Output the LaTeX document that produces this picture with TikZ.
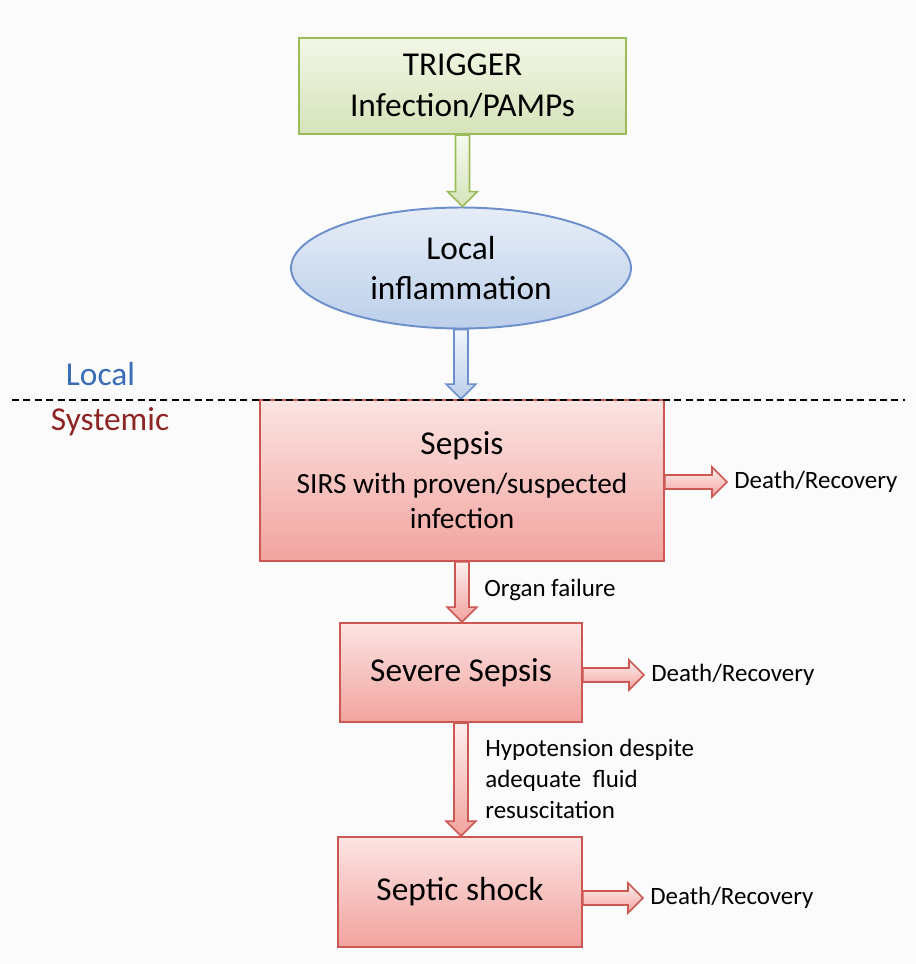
\documentclass[tikz,border=0pt]{standalone}
\usepackage{fontspec}
\setmainfont{Carlito}
\usetikzlibrary{calc,shapes.geometric}
\definecolor{bgpaper}{RGB}{251,251,251}
\definecolor{leafline}{HTML}{9BBB59}
\definecolor{leaftop}{HTML}{F2F7E6}
\definecolor{leafbot}{HTML}{D5E3BA}
\definecolor{skyline}{HTML}{6D8FCB}
\definecolor{skytop}{HTML}{E6EDF7}
\definecolor{skybot}{HTML}{BCCFEA}
\definecolor{rubyline}{HTML}{CD5753}
\definecolor{rubytop}{HTML}{FBE4E3}
\definecolor{rubybot}{HTML}{F2A39E}
\definecolor{localblue}{HTML}{3A6DB5}
\definecolor{sysred}{HTML}{8E2525}

% block arrows, #1 from, #2 to, #3 style
\newcommand{\downarr}[3]{%
    \draw[#3] ($(#1)+(-7,0)$) -- ($(#1 |- #2)+(-7,-15)$) -- ($(#1 |- #2)+(-15,-15)$) -- (#1 |- #2)
        -- ($(#1 |- #2)+(15,-15)$) -- ($(#1 |- #2)+(7,-15)$) -- ($(#1)+(7,0)$) -- cycle;}
\newcommand{\rightarr}[3]{%
    \draw[#3] ($(#1 |- #2)+(0,-7)$) -- ($(#2)+(-15,-7)$) -- ($(#2)+(-15,-15)$) -- (#2)
        -- ($(#2)+(-15,15)$) -- ($(#2)+(-15,7)$) -- ($(#1 |- #2)+(0,7)$) -- cycle;}

\tikzset{
    bigtext/.style={font=\fontsize{19}{23.3}\selectfont, align=center},
    smalltext/.style={font=\fontsize{14.2}{17.6}\selectfont, align=left, inner sep=4pt},
    greenbox/.style={draw=leafline, line width=1.1pt, top color=leaftop, bottom color=leafbot, bigtext,
        minimum width=6.54cm, minimum height=1.92cm},
    blueoval/.style={ellipse, draw=skyline, line width=1.1pt, top color=skytop, bottom color=skybot, bigtext,
        inner sep=0pt, minimum width=6.8cm, minimum height=2.42cm},
    redbox/.style={draw=rubyline, line width=1.1pt, top color=rubytop, bottom color=rubybot, bigtext},
    greenarr/.style={draw=leafline, line width=0.9pt, top color=leaftop!60!white, bottom color=leafbot},
    bluearr/.style={draw=skyline, line width=0.9pt, top color=skytop!60!white, bottom color=skybot},
    redarr/.style={draw=rubyline, line width=0.9pt, top color=rubytop!60!white, bottom color=rubybot}
}

\begin{document}
\begin{tikzpicture}[x=0.02cm, y=-0.02cm]
    \fill[bgpaper] (0,0) rectangle (916,964);
    \useasboundingbox (0,0) rectangle (916,964);

    % local part
    \node[greenbox] (trig) at (462.5,86) {TRIGGER\\Infection/PAMPs};
    \node[blueoval] (infl) at (461,268) {Local\\inflammation};

    % systemic part
    \node[redbox, minimum width=8.08cm, minimum height=3.22cm, font=\fontsize{16.7}{20}\selectfont] (sepsis) at (462,480.5)
        {{\fontsize{19}{20}\selectfont Sepsis}\\[2pt]SIRS with proven/suspected\\infection};
    \node[redbox, minimum width=4.84cm, minimum height=1.98cm] (severe) at (461,672.5) {Severe Sepsis};
    \node[redbox, minimum width=4.88cm, minimum height=2.2cm] (septic) at (460,892) {Septic shock};

    \node[smalltext, anchor=west] (dr1) at (727,482) {Death/Recovery};
    \node[smalltext, anchor=west] (dr2) at (644,675) {Death/Recovery};
    \node[smalltext, anchor=west] (dr3) at (643,898) {Death/Recovery};
    \node[smalltext, anchor=west] (organ) at (477,590) {Organ failure};
    \node[smalltext, anchor=west] (hypo) at (478,779) {Hypotension despite\\adequate\ \ fluid\\resuscitation};

    % arrows
    \downarr{trig.south}{infl.north}{greenarr}
    \downarr{infl.south}{sepsis.north}{bluearr}
    \downarr{sepsis.south}{severe.north}{redarr}
    \downarr{severe.south}{septic.north}{redarr}
    \foreach \b/\d in {sepsis/dr1, severe/dr2, septic/dr3}{
        \rightarr{\b.east}{\d.west}{redarr}
    }

    % border
    \draw[dash pattern=on 4pt off 2.5pt, line width=0.8pt] (12,400) -- (905,400);
    \node[bigtext, text=localblue] (loc) at (100.5,374) {Local};
    \node[bigtext, text=sysred] (sys) at (110,422) {Systemic};
\end{tikzpicture}
\end{document}
